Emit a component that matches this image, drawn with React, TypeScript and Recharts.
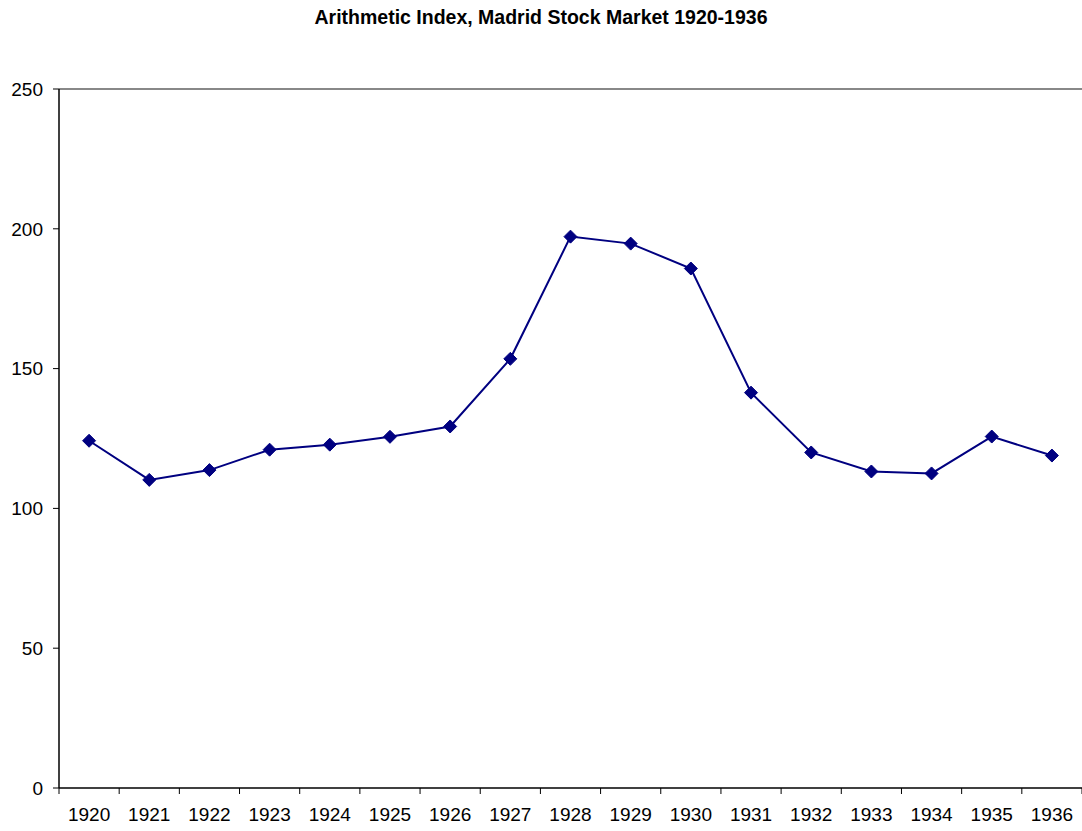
import { LineChart, Line, XAxis, YAxis, ReferenceLine } from "recharts";

// Arithmetic index of the Madrid stock market, yearly.
const years = [
  "1920", "1921", "1922", "1923", "1924", "1925", "1926", "1927", "1928",
  "1929", "1930", "1931", "1932", "1933", "1934", "1935", "1936",
];
const indexValues = [
  124.2, 110.2, 113.7, 121.0, 122.8, 125.6, 129.3, 153.5, 197.2,
  194.7, 185.8, 141.4, 120.0, 113.2, 112.5, 125.7, 118.9,
];
const yTicks = [0, 50, 100, 150, 200, 250];

const data = years.map((year, i) => ({ pos: i + 0.5, year, value: indexValues[i] }));
const boundaryTicks = years.map((_, i) => i).concat(years.length);

const W = 1082;
const H = 831;
const LEFT = 59;
const BAND = (W - LEFT) / years.length;
const NAVY = "#000080";
const FONT = "'Liberation Sans', Arial, sans-serif";

function YearTick(props: any) {
  const { x, y, payload } = props;
  const label = years[payload.value];
  if (!label) return null;
  return (
    <text x={x + BAND / 2} y={y} dy="0.71em" textAnchor="middle" fontSize={19} fontFamily={FONT} fill="#000">
      {label}
    </text>
  );
}

function Diamond(props: any) {
  const { cx, cy } = props;
  if (cx == null || cy == null) return null;
  const r = 6.5;
  return (
    <polygon
      points={`${cx},${cy - r} ${cx + r},${cy} ${cx},${cy + r} ${cx - r},${cy}`}
      fill={NAVY}
      stroke={NAVY}
    />
  );
}

export default function App() {
  return (
    <div style={{ position: "absolute", left: 0, top: 0, width: W, height: H, background: "#fff" }}>
      <div
        style={{
          position: "absolute",
          top: 6,
          left: 0,
          width: W,
          textAlign: "center",
          fontFamily: FONT,
          fontWeight: "bold",
          fontSize: 19.5,
        }}
      >
        Arithmetic Index, Madrid Stock Market 1920-1936
      </div>
      <LineChart width={W} height={H} data={data} margin={{ top: 89, right: 0, bottom: 0, left: 0 }}>
        <ReferenceLine y={250} stroke="#888" strokeWidth={2} />
        <XAxis
          dataKey="pos"
          type="number"
          domain={[0, years.length]}
          ticks={boundaryTicks}
          interval={0}
          height={43}
          tick={<YearTick />}
          tickSize={6}
          tickMargin={14}
          axisLine={{ stroke: "#000", strokeWidth: 1.5 }}
          tickLine={{ stroke: "#000" }}
          allowDataOverflow
        />
        <YAxis
          domain={[0, 250]}
          ticks={yTicks}
          interval={0}
          width={LEFT}
          tickSize={6}
          tickMargin={10}
          axisLine={{ stroke: "#000", strokeWidth: 1.5 }}
          tickLine={{ stroke: "#000" }}
          tick={{ fontSize: 19, fontFamily: FONT, fill: "#000" }}
        />
        <Line
          dataKey="value"
          stroke={NAVY}
          strokeWidth={2}
          dot={<Diamond />}
          activeDot={false}
          isAnimationActive={false}
        />
      </LineChart>
    </div>
  );
}
